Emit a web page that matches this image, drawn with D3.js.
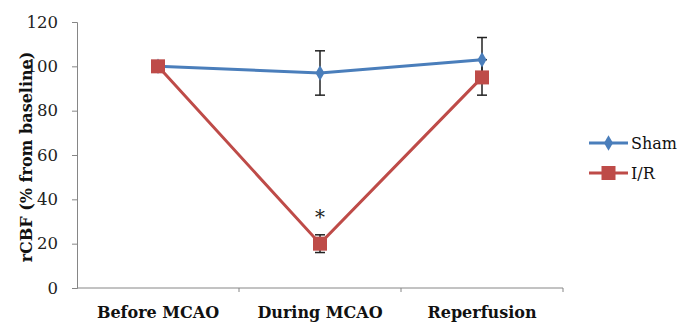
<!DOCTYPE html>
<html>
<head>
<meta charset="utf-8">
<script src="https://cdn.jsdelivr.net/npm/d3@7"></script>
<style>
  body { margin: 0; background: #fff; }
  svg text { font-family: "DejaVu Serif", serif; }
</style>
</head>
<body>
<svg width="680" height="325"></svg>
<script>
var categories = ["Before MCAO", "During MCAO", "Reperfusion"]
var shamValues = [100, 97, 103]
var shamErrors = [0, 10, 10]
var irValues = [100, 20, 95]
var irErrors = [0, 4, 8]
var yTicks = [0, 20, 40, 60, 80, 100, 120]
var seriesNames = ["Sham", "I/R"]

var svg = d3.select("svg")
var x = d3.scaleBand().domain(categories).range([77, 563])
var y = d3.scaleLinear().domain([0, 120]).range([288, 22])
var cx = d => x(d) + x.bandwidth() / 2

var axisColor = "#868686"

// y axis
var yAxis = d3.axisLeft(y).tickValues(yTicks).tickSize(5).tickPadding(14)
var yG = svg.append("g").attr("transform", "translate(77,0)").call(yAxis)
yG.attr("font-family", null)
yG.select(".domain").attr("stroke", axisColor)
yG.selectAll(".tick line").attr("stroke", axisColor)
yG.selectAll(".tick text").style("font-size", "16.5px").attr("fill", "#222")

// x axis
var xAxis = d3.axisBottom(x).tickSize(0).tickPadding(19)
var xG = svg.append("g").attr("transform", "translate(0,288)").call(xAxis)
xG.attr("font-family", null)
xG.select(".domain").attr("stroke", axisColor).attr("d", "M77,0H563")
xG.selectAll(".tick text").style("font-size", "16px")
  .style("font-weight", "bold").attr("fill", "#111")
xG.selectAll(".sep").data(categories).enter().append("line")
  .attr("x1", d => x(d) + x.bandwidth()).attr("x2", d => x(d) + x.bandwidth())
  .attr("y1", 0).attr("y2", 4).attr("stroke", axisColor)

// y title
svg.append("text").attr("transform", "translate(32,157) rotate(-90)")
  .attr("text-anchor", "middle").style("font-size", "16px").style("font-weight", "bold")
  .attr("fill", "#111").text("rCBF (% from baseline)")

var blue = "#4a7ebb", red = "#be4b48"
var line = d3.line().x(d => cx(d.cat)).y(d => y(d.v))

function series(vals, errs) {
  return categories.map((c, i) => ({ cat: c, v: vals[i], e: errs[i] }))
}
var sham = series(shamValues, shamErrors)
var ir = series(irValues, irErrors)

// error bars
function errorBars(data) {
  var g = svg.append("g").attr("stroke", "#222").attr("stroke-width", 1.5)
  data.filter(d => d.e > 0).forEach(d => {
    g.append("line").attr("x1", cx(d.cat)).attr("x2", cx(d.cat)).attr("y1", y(d.v - d.e)).attr("y2", y(d.v + d.e))
    g.append("line").attr("x1", cx(d.cat) - 5).attr("x2", cx(d.cat) + 5).attr("y1", y(d.v - d.e)).attr("y2", y(d.v - d.e))
    g.append("line").attr("x1", cx(d.cat) - 5).attr("x2", cx(d.cat) + 5).attr("y1", y(d.v + d.e)).attr("y2", y(d.v + d.e))
  })
}
errorBars(sham)
errorBars(ir)

svg.append("path").datum(sham).attr("d", line).attr("fill", "none").attr("stroke", blue).attr("stroke-width", 3)
svg.append("path").datum(ir).attr("d", line).attr("fill", "none").attr("stroke", red).attr("stroke-width", 3)

var diamond = d3.symbol().type(d3.symbolDiamond).size(70)
svg.selectAll(".shamPt").data(sham).enter().append("path")
  .attr("transform", d => `translate(${cx(d.cat)},${y(d.v)})`)
  .attr("d", diamond).attr("fill", blue)

svg.selectAll(".irPt").data(ir).enter().append("rect")
  .attr("x", d => cx(d.cat) - 7).attr("y", d => y(d.v) - 7)
  .attr("width", 14).attr("height", 14).attr("fill", red)

// significance marker
svg.append("text").attr("x", cx("During MCAO")).attr("y", y(irValues[1] + irErrors[1]) - 11)
  .attr("text-anchor", "middle").style("font-size", "20px").attr("fill", "#222").text("*")

// legend
var legend = svg.append("g")
seriesNames.forEach((name, i) => {
  var ly = 143 + i * 30
  var col = i === 0 ? blue : red
  legend.append("line").attr("x1", 589).attr("x2", 628).attr("y1", ly).attr("y2", ly)
    .attr("stroke", col).attr("stroke-width", 3)
  if (i === 0) {
    legend.append("path").attr("transform", `translate(608.5,${ly})`).attr("d", diamond).attr("fill", col)
  } else {
    legend.append("rect").attr("x", 601.5).attr("y", ly - 7).attr("width", 14).attr("height", 14).attr("fill", col)
  }
  legend.append("text").attr("x", 631).attr("y", ly + 6).style("font-size", "16px").attr("fill", "#111").text(name)
})
</script>
</body>
</html>
